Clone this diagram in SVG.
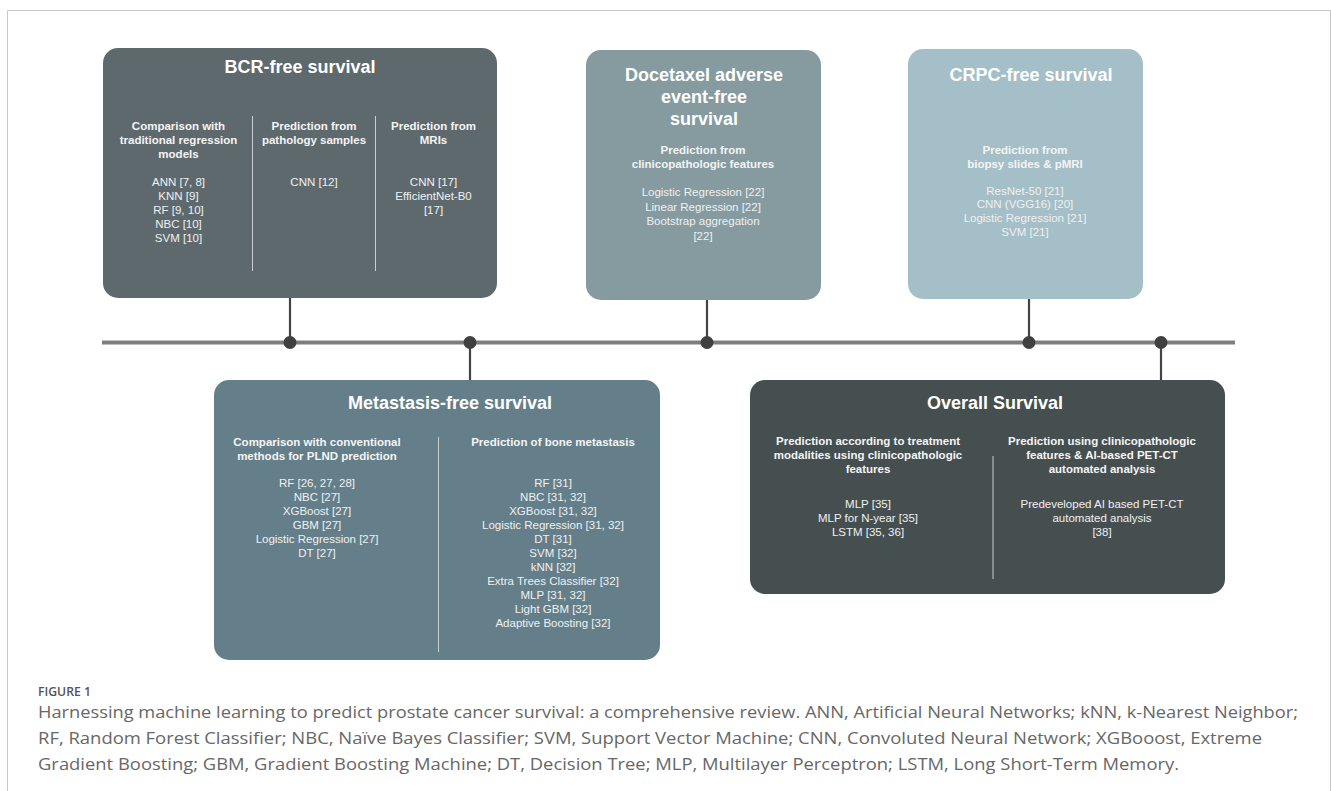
<svg xmlns="http://www.w3.org/2000/svg" width="1331" height="791" viewBox="0 0 1331 791">
<style>
.t{font-family:"Liberation Sans",Arial,sans-serif;font-weight:bold;font-size:18px;fill:#ffffff;text-anchor:middle}
.h{font-family:"Liberation Sans",Arial,sans-serif;font-weight:bold;font-size:11.5px;fill:#f4f4f4;text-anchor:middle}
.i{font-family:"Liberation Sans",Arial,sans-serif;font-size:11.5px;fill:#f0f0f0;text-anchor:middle}
.div{stroke:#c9cfd1;stroke-width:1}
.conn{stroke:#444444;stroke-width:2.2;fill:none}
.dot{fill:#404040}
.cap{font-family:"Open Sans","Lato",sans-serif;font-size:16.5px;fill:#676767}
</style>
<rect x="0" y="0" width="1331" height="791" fill="#ffffff"/>
<path d="M7.5 791 V10.5 H1330.5 V791" fill="none" stroke="#c8c8c8" stroke-width="1"/>

<g id="connectors">
<line x1="102" y1="342.5" x2="1235" y2="342.5" stroke="#7e7e7e" stroke-width="4"/>
<line class="conn" x1="290" y1="298" x2="290" y2="342"/>
<line class="conn" x1="470" y1="342" x2="470" y2="381"/>
<line class="conn" x1="707" y1="300" x2="707" y2="342"/>
<line class="conn" x1="1029" y1="299" x2="1029" y2="342"/>
<line class="conn" x1="1161" y1="342" x2="1161" y2="381"/>
<circle class="dot" cx="290" cy="342.5" r="6.5"/>
<circle class="dot" cx="470" cy="342.5" r="6.5"/>
<circle class="dot" cx="707" cy="342.5" r="6.5"/>
<circle class="dot" cx="1029" cy="342.5" r="6.5"/>
<circle class="dot" cx="1161" cy="342.5" r="6.5"/>
</g>

<g id="bcr">
<rect x="103" y="48" width="394" height="250" rx="15" fill="#5e696e"/>
<text class="t" x="300" y="72.5">BCR-free survival</text>
<line class="div" x1="252.5" y1="116" x2="252.5" y2="271"/>
<line class="div" x1="375.5" y1="116" x2="375.5" y2="271"/>
<text class="h" x="178.5" y="129.5">Comparison with</text>
<text class="h" x="178.5" y="143.5">traditional regression</text>
<text class="h" x="178.5" y="157.5">models</text>
<text class="i" x="178.5" y="186">ANN [7, 8]</text>
<text class="i" x="178.5" y="200">KNN [9]</text>
<text class="i" x="178.5" y="214">RF [9, 10]</text>
<text class="i" x="178.5" y="228">NBC [10]</text>
<text class="i" x="178.5" y="242">SVM [10]</text>
<text class="h" x="314" y="129.5">Prediction from</text>
<text class="h" x="314" y="143.5">pathology samples</text>
<text class="i" x="314" y="186">CNN [12]</text>
<text class="h" x="433.5" y="129.5">Prediction from</text>
<text class="h" x="433.5" y="143.5">MRIs</text>
<text class="i" x="433.5" y="186">CNN [17]</text>
<text class="i" x="433.5" y="200">EfficientNet-B0</text>
<text class="i" x="433.5" y="214">[17]</text>
</g>

<g id="docetaxel">
<rect x="586" y="50" width="235" height="250" rx="15" fill="#859ba0"/>
<text class="t" x="704" y="81">Docetaxel adverse</text>
<text class="t" x="704" y="103">event-free</text>
<text class="t" x="704" y="125">survival</text>
<text class="h" x="703" y="154">Prediction from</text>
<text class="h" x="703" y="168">clinicopathologic features</text>
<text class="i" x="703" y="196">Logistic Regression [22]</text>
<text class="i" x="703" y="210.7">Linear Regression [22]</text>
<text class="i" x="703" y="225.3">Bootstrap aggregation</text>
<text class="i" x="703" y="240">[22]</text>
</g>

<g id="crpc">
<rect x="908" y="49" width="235" height="250" rx="15" fill="#a4bfc7"/>
<text class="t" x="1031" y="81">CRPC-free survival</text>
<text class="h" x="1025" y="154">Prediction from</text>
<text class="h" x="1025" y="168">biopsy slides &amp; pMRI</text>
<text class="i" x="1025" y="194.5">ResNet-50 [21]</text>
<text class="i" x="1025" y="208.3">CNN (VGG16) [20]</text>
<text class="i" x="1025" y="222">Logistic Regression [21]</text>
<text class="i" x="1025" y="235.8">SVM [21]</text>
</g>

<g id="metastasis">
<rect x="214" y="380" width="446" height="280" rx="15" fill="#647f8a"/>
<text class="t" x="450" y="408.5">Metastasis-free survival</text>
<line class="div" x1="438.5" y1="437" x2="438.5" y2="652"/>
<text class="h" x="317" y="446">Comparison with conventional</text>
<text class="h" x="317" y="460">methods for PLND prediction</text>
<text class="i" x="317" y="487">RF [26, 27, 28]</text>
<text class="i" x="317" y="501">NBC [27]</text>
<text class="i" x="317" y="515">XGBoost [27]</text>
<text class="i" x="317" y="529">GBM [27]</text>
<text class="i" x="317" y="543">Logistic Regression [27]</text>
<text class="i" x="317" y="557">DT [27]</text>
<text class="h" x="553" y="446">Prediction of bone metastasis</text>
<text class="i" x="553" y="487">RF [31]</text>
<text class="i" x="553" y="501">NBC [31, 32]</text>
<text class="i" x="553" y="515">XGBoost [31, 32]</text>
<text class="i" x="553" y="529">Logistic Regression [31, 32]</text>
<text class="i" x="553" y="543">DT [31]</text>
<text class="i" x="553" y="557">SVM [32]</text>
<text class="i" x="553" y="571">kNN [32]</text>
<text class="i" x="553" y="585">Extra Trees Classifier [32]</text>
<text class="i" x="553" y="599">MLP [31, 32]</text>
<text class="i" x="553" y="613">Light GBM [32]</text>
<text class="i" x="553" y="627">Adaptive Boosting [32]</text>
</g>

<g id="overall">
<rect x="750" y="380" width="475" height="214" rx="15" fill="#464f50"/>
<text class="t" x="995" y="408.5">Overall Survival</text>
<line class="div" x1="993" y1="456" x2="993" y2="579"/>
<text class="h" x="868" y="445">Prediction according to treatment</text>
<text class="h" x="868" y="459">modalities using clinicopathologic</text>
<text class="h" x="868" y="473">features</text>
<text class="i" x="868" y="508">MLP [35]</text>
<text class="i" x="868" y="522">MLP for N-year [35]</text>
<text class="i" x="868" y="536">LSTM [35, 36]</text>
<text class="h" x="1102" y="445">Prediction using clinicopathologic</text>
<text class="h" x="1102" y="459">features &amp; AI-based PET-CT</text>
<text class="h" x="1102" y="473">automated analysis</text>
<text class="i" x="1102" y="508">Predeveloped AI based PET-CT</text>
<text class="i" x="1102" y="522">automated analysis</text>
<text class="i" x="1102" y="536">[38]</text>
</g>

<g id="caption">
<text x="38" y="696" font-family="'Open Sans','Lato',sans-serif" font-size="12.5px" font-weight="600" fill="#555555" textLength="53" lengthAdjust="spacingAndGlyphs">FIGURE 1</text>
<text class="cap" x="38" y="718" textLength="1260" lengthAdjust="spacingAndGlyphs">Harnessing machine learning to predict prostate cancer survival: a comprehensive review. ANN, Artificial Neural Networks; kNN, k-Nearest Neighbor;</text>
<text class="cap" x="38" y="744" textLength="1224" lengthAdjust="spacingAndGlyphs">RF, Random Forest Classifier; NBC, Naïve Bayes Classifier; SVM, Support Vector Machine; CNN, Convoluted Neural Network; XGBooost, Extreme</text>
<text class="cap" x="38" y="769.5" textLength="1141" lengthAdjust="spacingAndGlyphs">Gradient Boosting; GBM, Gradient Boosting Machine; DT, Decision Tree; MLP, Multilayer Perceptron; LSTM, Long Short-Term Memory.</text>
</g>
</svg>
